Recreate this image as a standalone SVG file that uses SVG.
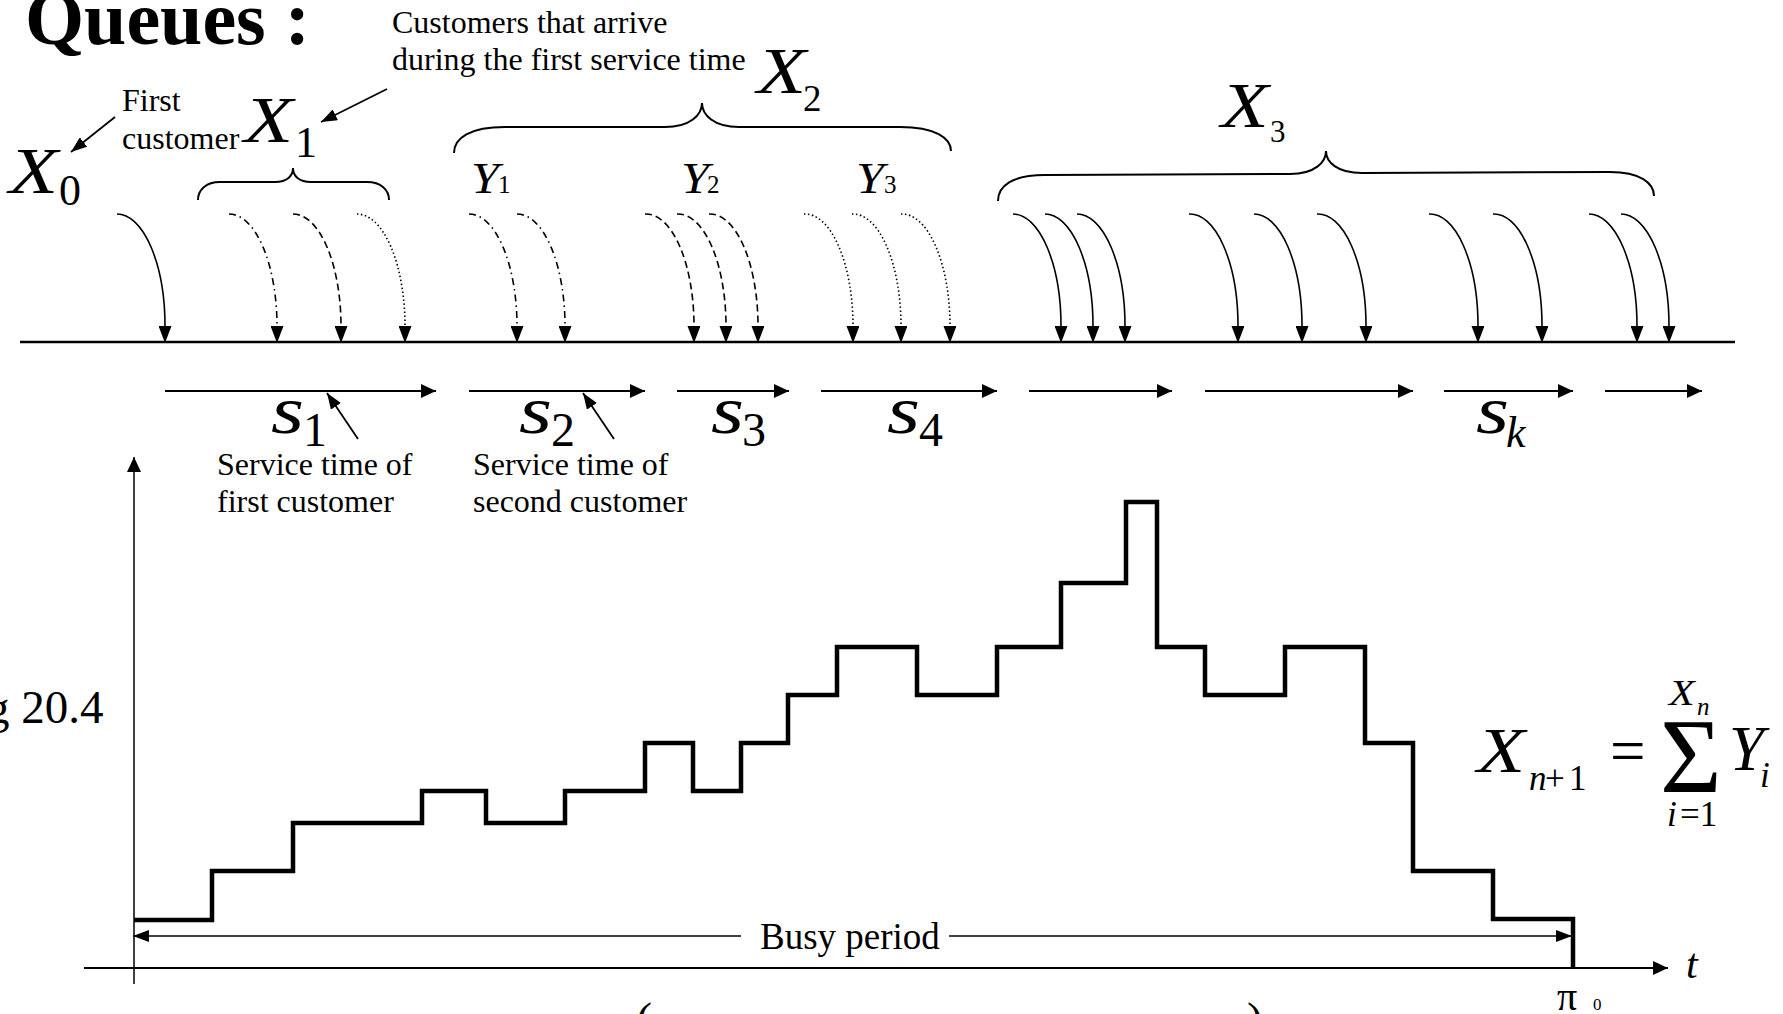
<svg xmlns="http://www.w3.org/2000/svg" width="1783" height="1014" viewBox="0 0 1783 1014">
<style>
text{font-family:"Liberation Serif","Times New Roman",serif;fill:#000}
.lbl{font-size:32px}
.it{font-style:italic}
.ln{fill:none;stroke:#000}
.arr{fill:none;stroke:#000;stroke-width:1.6;marker-end:url(#ah)}
.dd{stroke-dasharray:7 4 1.5 4}
.ds{stroke-dasharray:7 4}
.dt{stroke-dasharray:1.5 2.5}
.svc{fill:none;stroke:#000;stroke-width:2;marker-end:url(#ahs)}
.brace{fill:none;stroke:#000;stroke-width:2}
</style>
<defs>
<marker id="ah" markerUnits="userSpaceOnUse" viewBox="0 0 17 13" markerWidth="17" markerHeight="13" refX="0" refY="6.5" orient="auto"><path d="M0,0 L17,6.5 L0,13 z" fill="#000"/></marker>
<marker id="ahs" markerUnits="userSpaceOnUse" viewBox="0 0 15 14" markerWidth="15" markerHeight="14" refX="15" refY="7" orient="auto"><path d="M0,0 L15,7 L0,14 z" fill="#000"/></marker>
<marker id="ahp" markerUnits="userSpaceOnUse" viewBox="0 0 16 12" markerWidth="16" markerHeight="12" refX="16" refY="6" orient="auto"><path d="M0,0 L16,6 L0,12 z" fill="#000"/></marker>
</defs>

<g id="title"><text x="25" y="44" font-size="76" font-weight="bold">Queues :</text></g>

<g id="annotations">
<text class="lbl" x="392" y="33">Customers that arrive</text>
<text class="lbl" x="392" y="70">during the first service time</text>
<text class="lbl" x="122" y="111">First</text>
<text class="lbl" x="122" y="149">customer</text>
<text class="lbl" x="217" y="475">Service time of</text>
<text class="lbl" x="217" y="512">first customer</text>
<text class="lbl" x="473" y="475">Service time of</text>
<text class="lbl" x="473" y="512">second customer</text>
<text x="-14" y="723" font-size="47">g 20.4</text>
<text x="636" y="1036" font-size="48">(</text>
<text x="1247" y="1036" font-size="48">)</text>
</g>

<g id="labels-X">
<g id="X0"><text class="it" transform="translate(9,193) scale(1.22,1)" font-size="66">X</text><text x="59" y="205" font-size="44">0</text></g>
<g id="X1"><text class="it" transform="translate(244,142) scale(1.22,1)" font-size="66">X</text><text x="295" y="157" font-size="44">1</text></g>
<g id="X2"><text class="it" transform="translate(757,93) scale(1.22,1)" font-size="66">X</text><text x="803" y="111" font-size="37">2</text></g>
<g id="X3"><text class="it" transform="translate(1221,127) scale(1.22,1)" font-size="64">X</text><text x="1270" y="142" font-size="31">3</text></g>
</g>

<g id="labels-Y">
<g id="Y1"><text class="it" transform="translate(471,193) scale(1.12,1)" font-size="45">Y</text><text x="498" y="193" font-size="25">1</text></g>
<g id="Y2"><text class="it" transform="translate(681,193) scale(1.12,1)" font-size="45">Y</text><text x="707" y="193" font-size="25">2</text></g>
<g id="Y3"><text class="it" transform="translate(856,193) scale(1.12,1)" font-size="45">Y</text><text x="884" y="193" font-size="25">3</text></g>
</g>

<g id="braces">
<path class="brace" d="M198,200 C198,190 206,182 220,182 L275,182 C287,182 293,176 293,168 C293,176 299,182 311,182 L367,182 C381,182 389,190 389,200"/>
<path class="brace" d="M454,153 C454,138 470,127 505,127 L665,127 C690,127 702,115 702,103 C702,115 714,127 739,127 L900,127 C935,127 951,138 951,151"/>
<path class="brace" d="M998,201 C998,186 1012,175 1045,175 L1290,174 C1315,174 1326,162 1326,151 C1326,162 1337,173 1362,173 L1610,172 C1640,172 1654,183 1654,196"/>
</g>

<g id="timeline">
<path class="ln" stroke-width="2.5" d="M20,342 H1735"/>
</g>

<g id="connectors">
<path class="ln" stroke-width="1.8" marker-end="url(#ahp)" d="M115,117 L71,152"/>
<path class="ln" stroke-width="1.8" marker-end="url(#ahp)" d="M387,89 L321,122"/>
<path class="arr" d="M117,214 A48 112 0 0 1 165,326"/>
<path class="arr dd" d="M229,214 A48 112 0 0 1 277,326"/>
<path class="arr ds" d="M293,214 A48 112 0 0 1 341,326"/>
<path class="arr dt" d="M357,214 A48 112 0 0 1 405,326"/>
<path class="arr dd" d="M469,214 A48 112 0 0 1 517,326"/>
<path class="arr dd" d="M517,214 A48 112 0 0 1 565,326"/>
<path class="arr ds" d="M645,214 A48 112 0 0 1 694,326"/>
<path class="arr ds" d="M677,214 A48 112 0 0 1 726,326"/>
<path class="arr ds" d="M709,214 A48 112 0 0 1 758,326"/>
<path class="arr dt" d="M804,214 A48 112 0 0 1 853,326"/>
<path class="arr dt" d="M852,214 A48 112 0 0 1 901,326"/>
<path class="arr dt" d="M901,214 A48 112 0 0 1 950,326"/>
<path class="arr" d="M1013,214 A48 112 0 0 1 1061,326"/>
<path class="arr" d="M1045,214 A48 112 0 0 1 1093,326"/>
<path class="arr" d="M1077,214 A48 112 0 0 1 1125,326"/>
<path class="arr" d="M1189,214 A48 112 0 0 1 1238,326"/>
<path class="arr" d="M1254,214 A48 112 0 0 1 1302,326"/>
<path class="arr" d="M1317,214 A48 112 0 0 1 1366,326"/>
<path class="arr" d="M1429,214 A48 112 0 0 1 1478,326"/>
<path class="arr" d="M1493,214 A48 112 0 0 1 1542,326"/>
<path class="arr" d="M1589,214 A48 112 0 0 1 1637,326"/>
<path class="arr" d="M1621,214 A48 112 0 0 1 1669,326"/>
<path class="svc" d="M165,391 H436"/>
<path class="svc" d="M469,391 H645"/>
<path class="svc" d="M677,391 H789"/>
<path class="svc" d="M821,391 H997"/>
<path class="svc" d="M1029,391 H1172"/>
<path class="svc" d="M1205,391 H1413"/>
<path class="svc" d="M1444,391 H1573"/>
<path class="svc" d="M1605,391 H1702"/>
<path class="ln" stroke-width="1.8" marker-end="url(#ahp)" d="M358,439 L327,393"/>
<path class="ln" stroke-width="1.8" marker-end="url(#ahp)" d="M614,439 L583,393"/>
</g>

<g id="labels-s">
<g id="s1"><text class="it" transform="translate(271,433) scale(1.25,1)" font-size="68">s</text><text x="303" y="446" font-size="48">1</text></g>
<g id="s2"><text class="it" transform="translate(519,433) scale(1.25,1)" font-size="68">s</text><text x="551" y="446" font-size="48">2</text></g>
<g id="s3"><text class="it" transform="translate(711,433) scale(1.25,1)" font-size="68">s</text><text x="742" y="446" font-size="48">3</text></g>
<g id="s4"><text class="it" transform="translate(887,433) scale(1.25,1)" font-size="68">s</text><text x="919" y="446" font-size="48">4</text></g>
<g id="sk"><text class="it" transform="translate(1476,433) scale(1.25,1)" font-size="68">s</text><text class="it" x="1506" y="447" font-size="44">k</text></g>
</g>

<g id="graph">
<path class="ln" stroke-width="1.5" marker-end="url(#ahs)" d="M134,984 V457"/>
<path class="ln" stroke-width="2" marker-end="url(#ahs)" d="M84,968 H1668"/>
<path class="ln" stroke-width="4.5" stroke-linejoin="miter" d="M134,920 H212 V871 H293 V823 H422 V791 H486 V823 H565 V791 H645 V743 H693 V791 H741 V743 H788 V695 H837 V647 H917 V695 H997 V647 H1061 V583 H1126 V502 H1157 V647 H1205 V695 H1285 V647 H1365 V743 H1413 V871 H1493 V919 H1573 V968"/>
<path class="ln" stroke-width="1.5" marker-end="url(#ahp)" d="M741,936 H133"/>
<path class="ln" stroke-width="1.5" marker-end="url(#ahp)" d="M949,936 H1572"/>
<text x="760" y="949" font-size="37">Busy period</text>
<text class="it" x="1686" y="978" font-size="42">t</text>
<text x="1557" y="1010" font-size="40">π</text>
<text x="1593" y="1010" font-size="17">0</text>
</g>

<g id="formula">
<text class="it" transform="translate(1477,772) scale(1.25,1)" font-size="63">X</text>
<text x="1529" y="790" font-size="35"><tspan font-style="italic">n</tspan><tspan x="1545">+</tspan><tspan x="1569">1</tspan></text>
<text x="1610" y="772" font-size="63">=</text>
<text x="1660" y="792" font-size="106">Σ</text>
<text class="it" x="1729" y="770" font-size="63">Y</text>
<text class="it" x="1760" y="787" font-size="35">i</text>
<text class="it" transform="translate(1669,705) scale(1.2,1)" font-size="35">X</text>
<text class="it" x="1697" y="715" font-size="25">n</text>
<text x="1667" y="826" font-size="35"><tspan font-style="italic">i</tspan><tspan x="1680">=1</tspan></text>
</g>
</svg>
